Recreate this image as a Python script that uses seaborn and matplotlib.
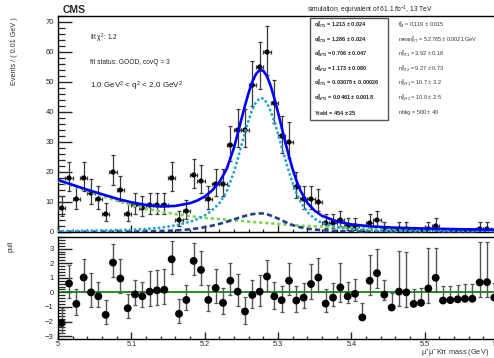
import numpy as np
import pandas as pd
import matplotlib
matplotlib.use("Agg")
import matplotlib.pyplot as plt
import seaborn as sns
from matplotlib.ticker import MultipleLocator, FormatStrFormatter
from matplotlib.patches import Rectangle

# ---------------- data ----------------
bin_lo = 5.0
bin_width = 0.01
counts = [8, 18, 11, 18, 13, 11, 6, 20, 14, 6, 9, 8, 9, 9, 9, 18, 4, 7, 19, 17,
          11, 16, 16, 29, 34, 34, 49, 55, 60, 43, 32, 30, 15, 11, 11, 10, 3, 3, 4, 2,
          2, 0, 3, 4, 1, 0, 1, 1, 0, 0, 1, 2, 0, 0, 0, 0, 0, 1, 1, 0]
pulls = [-2.1, 0.61, -0.79, 1.02, 0.0, -0.27, -1.54, 2.04, 0.95, -1.09,
         -0.14, -0.27, 0.05, 0.14, 0.18, 2.27, -1.47, -0.52, 2.16, 1.54,
         -0.52, 0.3, -0.72, 0.8, 0.05, -1.31, -0.18, 0.05, 1.09, -0.27,
         -0.54, 0.8, -0.56, -0.36, 0.57, 1.02, -0.77, -0.36, 0.34, -0.27,
         -0.1, -1.72, 0.8, 1.32, -0.16, -1.04, 0.05, 0.0, -0.79, -0.72,
         0.27, 1.0, -0.56, -0.53, -0.48, -0.44, -0.44, 0.68, 0.7, -0.36]

curve_x = [5.00, 5.02, 5.04, 5.06, 5.08, 5.10, 5.12, 5.14, 5.16, 5.18, 5.19, 5.20,
           5.21, 5.22, 5.23, 5.24, 5.245, 5.25, 5.255, 5.26, 5.265, 5.27, 5.275,
           5.28, 5.285, 5.29, 5.295, 5.30, 5.305, 5.31, 5.315, 5.32, 5.325, 5.33,
           5.34, 5.35, 5.36, 5.38, 5.40, 5.43, 5.46, 5.50, 5.55, 5.60]
total_y = [17.35, 15.71, 14.08, 12.6, 11.12, 9.9, 9.0, 8.5, 8.7, 9.6, 10.5, 11.8,
           13.8, 16.6, 21.0, 28.1, 32.7, 37.5, 42.15, 46.45, 50.1, 52.65, 54.0,
           53.75, 51.9, 48.7, 44.6, 39.9, 34.9, 29.9, 25.2, 20.9, 17.2, 14.1,
           9.7, 7.1, 5.4, 3.52, 2.53, 1.8, 1.44, 1.15, 0.92, 0.77]
rt_y = [0.3, 0.35, 0.4, 0.5, 0.6, 0.75, 1.0, 1.4, 2.2, 3.4, 4.3, 5.5,
        7.2, 9.6, 13.5, 20.0, 24.3, 28.8, 33.2, 37.3, 40.8, 43.3, 44.6,
        44.5, 43.0, 40.3, 36.8, 32.7, 28.4, 24.1, 20.0, 16.3, 13.1, 10.4,
        6.6, 4.4, 3.0, 1.6, 0.95, 0.5, 0.32, 0.2, 0.14, 0.1]
wt_y = [0.05, 0.06, 0.08, 0.1, 0.12, 0.15, 0.2, 0.3, 0.5, 0.9, 1.2, 1.6,
        2.1, 2.7, 3.4, 4.2, 4.6, 5.0, 5.35, 5.7, 5.95, 6.1, 6.2,
        6.15, 5.9, 5.5, 5.0, 4.5, 3.9, 3.3, 2.8, 2.3, 1.9, 1.6,
        1.1, 0.8, 0.6, 0.32, 0.18, 0.1, 0.07, 0.05, 0.03, 0.02]
bkg_y = [17.0, 15.3, 13.6, 12.0, 10.4, 9.0, 7.8, 6.8, 6.0, 5.3, 5.0, 4.7,
         4.5, 4.3, 4.1, 3.9, 3.8, 3.7, 3.6, 3.45, 3.35, 3.25, 3.2,
         3.1, 3.0, 2.9, 2.8, 2.7, 2.6, 2.5, 2.4, 2.3, 2.2, 2.1,
         2.0, 1.9, 1.8, 1.6, 1.4, 1.2, 1.05, 0.9, 0.75, 0.65]

left_labels = [r"$\alpha^{0}_{RT1}$ = 1.213 $\pm$ 0.024",
               r"$\alpha^{0}_{RT2}$ = 1.286 $\pm$ 0.024",
               r"$\alpha^{0}_{WT1}$ = 0.706 $\pm$ 0.047",
               r"$\alpha^{0}_{WT2}$ = 1.173 $\pm$ 0.080",
               r"$\sigma^{0}_{RT1}$ = 0.03078 $\pm$ 0.00026",
               r"$\sigma^{0}_{WT1}$ = 0.0461 $\pm$ 0.0018",
               r"Yield = 454 $\pm$ 25"]
right_labels = [r"$f^{0}_{M}$ = 0.119 $\pm$ 0.015",
                r"mean$^{0}_{RT}$ = 5.2765 $\pm$ 0.0021 GeV",
                r"$n^{0}_{RT1}$ = 3.92 $\pm$ 0.18",
                r"$n^{0}_{RT2}$ = 9.27 $\pm$ 0.73",
                r"$n^{0}_{WT1}$ = 10.7 $\pm$ 3.2",
                r"$n^{0}_{WT2}$ = 10.0 $\pm$ 2.5",
                r"nbkg = 500 $\pm$ 40"]

# ---------------- style ----------------
sns.set_theme(style="ticks")
plt.rcParams["font.family"] = ["Liberation Sans", "DejaVu Sans"]
plt.rcParams["mathtext.default"] = "regular"
plt.rcParams["axes.linewidth"] = 1.0

W, H = 494, 358
fig = plt.figure(figsize=(W / 100, H / 100), dpi=100)


def fx(px):
    return px / W


def fy(py):
    return 1 - py / H


ax1 = fig.add_axes([fx(58), fy(232), fx(440), (232 - 16) / H])
ax2 = fig.add_axes([fx(58), fy(339), fx(440), (339 - 237) / H])

n = np.array(counts, dtype=float)
centers = bin_lo + bin_width * (np.arange(len(counts)) + 0.5)

# Poisson (Garwood-like) asymmetric errors
nn = np.maximum(n, 1)
lo = np.where(n > 0, n - n * (1 - 1 / (9 * nn) - 1 / (3 * np.sqrt(nn))) ** 3, 0.0)
hi = np.where(n > 0, (n + 1) * (1 - 1 / (9 * (n + 1)) + 1 / (3 * np.sqrt(n + 1))) ** 3 - n, 1.1479)

df = pd.DataFrame({"x": centers, "n": n, "pull": pulls})

# ---------------- top panel ----------------
ax1.errorbar(centers, n, yerr=[lo, hi], xerr=bin_width / 2, fmt="none",
             ecolor="#3a3a3a", elinewidth=0.9, capsize=1.4, capthick=0.9, zorder=3)
sns.scatterplot(data=df, x="x", y="n", ax=ax1, color="black", s=14,
                edgecolor="none", zorder=4, legend=False)

sns.lineplot(x=curve_x, y=bkg_y, ax=ax1, color="#7fd34e", lw=1.9,
             linestyle=(0, (1.2, 1.1)), zorder=5, sort=False)
sns.lineplot(x=curve_x, y=wt_y, ax=ax1, color="#1f3f8f", lw=1.9,
             linestyle=(0, (2.0, 1.2)), zorder=5, sort=False)
sns.lineplot(x=curve_x, y=rt_y, ax=ax1, color="#22a3d3", lw=2.1,
             linestyle=(0, (0.05, 1.6)), dash_capstyle="round", zorder=5, sort=False)
sns.lineplot(x=curve_x, y=total_y, ax=ax1, color="#0000ff", lw=1.9,
             zorder=6, sort=False)

ax1.set_xlim(5.0, 5.6)
ax1.set_ylim(0, 72)
ax1.set_xlabel("")
ax1.set_ylabel("")
ax1.yaxis.set_major_locator(MultipleLocator(10))
ax1.yaxis.set_minor_locator(MultipleLocator(2))
ax1.xaxis.set_major_locator(MultipleLocator(0.1))
ax1.xaxis.set_minor_locator(MultipleLocator(0.02))
ax1.tick_params(axis="y", which="major", direction="in", length=10, width=1.0,
                labelsize=5.5, pad=3)
ax1.tick_params(axis="y", which="minor", direction="in", length=5, width=0.9)
ax1.tick_params(axis="x", which="major", direction="in", length=5, width=1.0,
                labelbottom=False)
ax1.tick_params(axis="x", which="minor", direction="in", length=2.5, width=0.9)
for s in ["top", "right", "left", "bottom"]:
    ax1.spines[s].set_visible(True)
    ax1.spines[s].set_linewidth(1.0)
    ax1.spines[s].set_color("black")

# ---------------- pull panel ----------------
p = np.array(pulls)
ratio_lo = np.where(hi > 0, lo / hi, 0.0)
ratio_hi = np.where(lo > 0, hi / np.where(lo > 0, lo, 1), 1.0)
p_down = np.where(p < 0, ratio_lo, 1.0)
p_up = np.where(p < 0, 1.0, ratio_hi)

ax2.axhline(0, color="#007a00", lw=1.2, zorder=2)
ax2.errorbar(centers, p, yerr=[p_down, p_up], fmt="none", ecolor="#555555",
             elinewidth=1.0, capsize=1.4, capthick=0.9, zorder=3)
sns.scatterplot(data=df, x="x", y="pull", ax=ax2, color="black", s=32,
                edgecolor="none", zorder=4, legend=False)
ax2.set_xlim(5.0, 5.6)
ax2.set_ylim(-3.2, 3.8)
ax2.set_xlabel("")
ax2.set_ylabel("")
ax2.yaxis.set_major_locator(MultipleLocator(1))
ax2.yaxis.set_minor_locator(MultipleLocator(0.2))
ax2.xaxis.set_major_locator(MultipleLocator(0.1))
ax2.xaxis.set_minor_locator(MultipleLocator(0.02))
ax2.xaxis.set_major_formatter(FormatStrFormatter("%g"))
ax2.tick_params(axis="y", which="major", direction="in", length=10, width=1.0,
                labelsize=5.5, pad=3)
ax2.tick_params(axis="y", which="minor", direction="in", length=5, width=0.9)
ax2.tick_params(axis="x", which="major", direction="in", length=5, width=1.0,
                labelsize=5.3, pad=1.2)
ax2.tick_params(axis="x", which="minor", direction="in", length=2.5, width=0.9)
for s in ["top", "right", "left", "bottom"]:
    ax2.spines[s].set_visible(True)
    ax2.spines[s].set_linewidth(1.0)
    ax2.spines[s].set_color("black")

# ---------------- texts ----------------
fig.text(fx(15), fy(51), "Events / ( 0.01 GeV )", rotation=90, ha="center",
         va="center", fontsize=5.2, color="#333333")
fig.text(fx(11), fy(246), "pull", rotation=90, ha="center", va="center",
         fontsize=5.2, color="#333333")
fig.text(fx(421), fy(352.5), r"$\mu^{+}\mu^{-}$K$\pi$ mass (GeV)", ha="left",
         va="center", fontsize=5.3, color="#333333")
fig.text(fx(63), fy(10), "CMS", fontsize=7.5, fontweight="bold", ha="left",
         va="center")
fig.text(fx(370), fy(10), r"simulation, equivalent of 61.1 fb$^{-1}$, 13 TeV",
         fontsize=4.8, ha="center", va="center", color="#222222")
fig.text(fx(90), fy(38), r"fit $\chi^{2}$: 1.2", fontsize=4.8, va="center",
         color="#222222")
fig.text(fx(90), fy(62), "fit status: GOOD, covQ = 3", fontsize=4.8, va="center",
         color="#222222")
fig.text(fx(90), fy(86), r"1.0 GeV$^{2}$ < q$^{2}$ < 2.0 GeV$^{2}$", fontsize=5.8,
         va="center", color="#222222")

box = Rectangle((fx(310), fy(120)), fx(78), (120 - 18) / H, transform=fig.transFigure,
                facecolor="white", edgecolor="#555555", lw=1.0, zorder=10)
fig.patches.append(box)
rows = [25, 40, 54, 69, 83, 98, 113]
for yy, lab in zip(rows, left_labels):
    fig.text(fx(314), fy(yy), lab, fontsize=4.0, fontweight="bold", va="center",
             ha="left", zorder=11, color="#222222")
for yy, lab in zip(rows, right_labels):
    fig.text(fx(398), fy(yy), lab, fontsize=4.0, va="center", ha="left",
             color="#333333")

fig.savefig("out.png", dpi=100)
